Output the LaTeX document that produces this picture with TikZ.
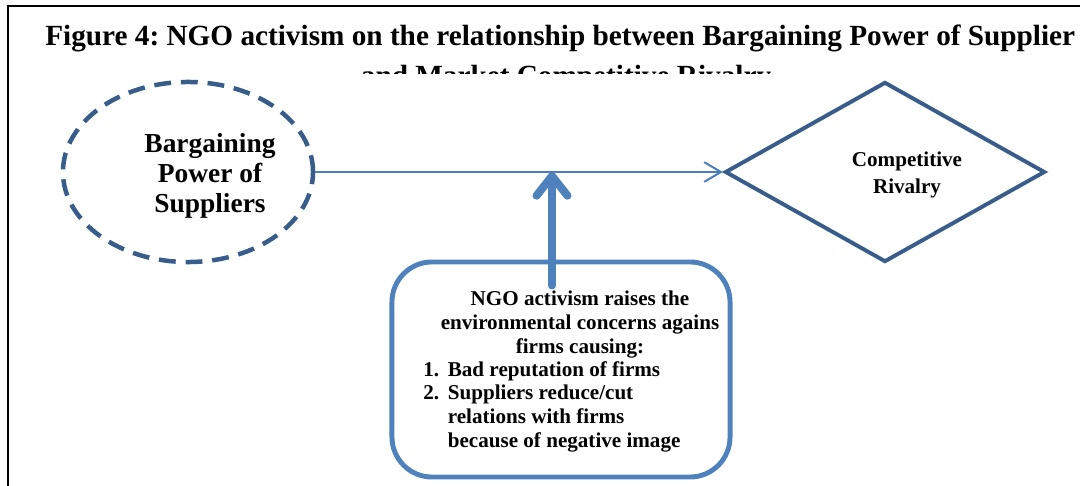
\documentclass[tikz,border=0pt]{standalone}
\usepackage{fontspec}
\setmainfont{Liberation Serif}
\usepackage{xcolor}
\usetikzlibrary{arrows.meta,shapes.geometric,calc}
\definecolor{darkblue}{HTML}{385D8A}
\definecolor{midblue}{HTML}{4F81BD}
\definecolor{lineblue}{HTML}{4A7EBB}
\frenchspacing
\tikzset{
    titletext/.style={
        font=\fontsize{20.8}{23}\selectfont\bfseries, inner sep=0pt
    },
    forcebox/.style={
        ellipse, draw=darkblue, line width=3.2pt,
        dash pattern=on 12pt off 7pt,
        minimum width=6.25cm, minimum height=4.5cm, inner sep=0pt
    },
    forcetext/.style={
        font=\fontsize{19.5}{21.3}\selectfont\bfseries, align=center, inner sep=0pt
    },
    rivalbox/.style={
        diamond, draw=darkblue, line width=2.8pt,
        minimum width=8cm, minimum height=4.5cm, inner sep=0pt
    },
    rivaltext/.style={
        font=\fontsize{15}{18.5}\selectfont\bfseries, align=center, inner sep=0pt
    },
    ngobox/.style={
        draw=midblue, line width=3.5pt, rounded corners=1cm,
        minimum width=8.45cm, minimum height=5.375cm
    },
    ngotext/.style={
        font=\fontsize{15}{17}\selectfont\bfseries, inner sep=0pt
    },
    thinarrow/.style={-{Straight Barb[length=12pt,width=14pt]}, line width=1.4pt, color=lineblue},
    thickarrow/.style={-{Straight Barb[length=14pt,width=22pt,round]}, line width=5.7pt, color=midblue, line cap=round},
}

\begin{document}
\begin{tikzpicture}[x=0.025cm, y=-0.025cm]
    \useasboundingbox (0,0) rectangle (1080,486);
    % frame
    \draw[line width=1.8pt] (8,486) -- (8,6) -- (1080,6);
    % title
    \node[titletext, anchor=base west] (title1) at (45,46) {Figure 4: NGO activism on the relationship between Bargaining Power of Supplier};
    \begin{scope}
        \clip (0,0) rectangle (1080,74);
        \node[titletext, anchor=base] (title2) at (566,86) {and Market Competitive Rivalry};
    \end{scope}
    % forces
    \node[forcebox] (bps) at (188,172) {};
    \node[forcetext, anchor=base] (bpstext) at (210,212) {Bargaining\\Power of\\Suppliers};
    \node[rivalbox] (cr) at (885,172) {};
    \node[rivaltext, anchor=base] (crtext) at (907,193) {Competitive\\Rivalry};
    % NGO activism
    \node[ngobox] (ngo) at (561,369.5) {};
    \node[ngotext, align=center, anchor=base] (ngohead) at (580,353) {NGO activism raises the\\environmental concerns agains\\firms causing:};
    \node[ngotext, anchor=base west] (ngolist) at (423,376) {%
        \begin{tabular}[t]{@{}p{17.5pt}@{}l@{}}
            1. & Bad reputation of firms\\
            2. & Suppliers reduce/cut\\
               & relations with firms\\
               & because of negative image
        \end{tabular}};
    \coordinate (ngotop) at ($(ngo.north)+(-9,26)$);
    \draw[thinarrow] (bps.east) -- (cr.west);
    \draw[thickarrow] (ngotop) -- (ngotop |- bps.east);
\end{tikzpicture}
\end{document}
